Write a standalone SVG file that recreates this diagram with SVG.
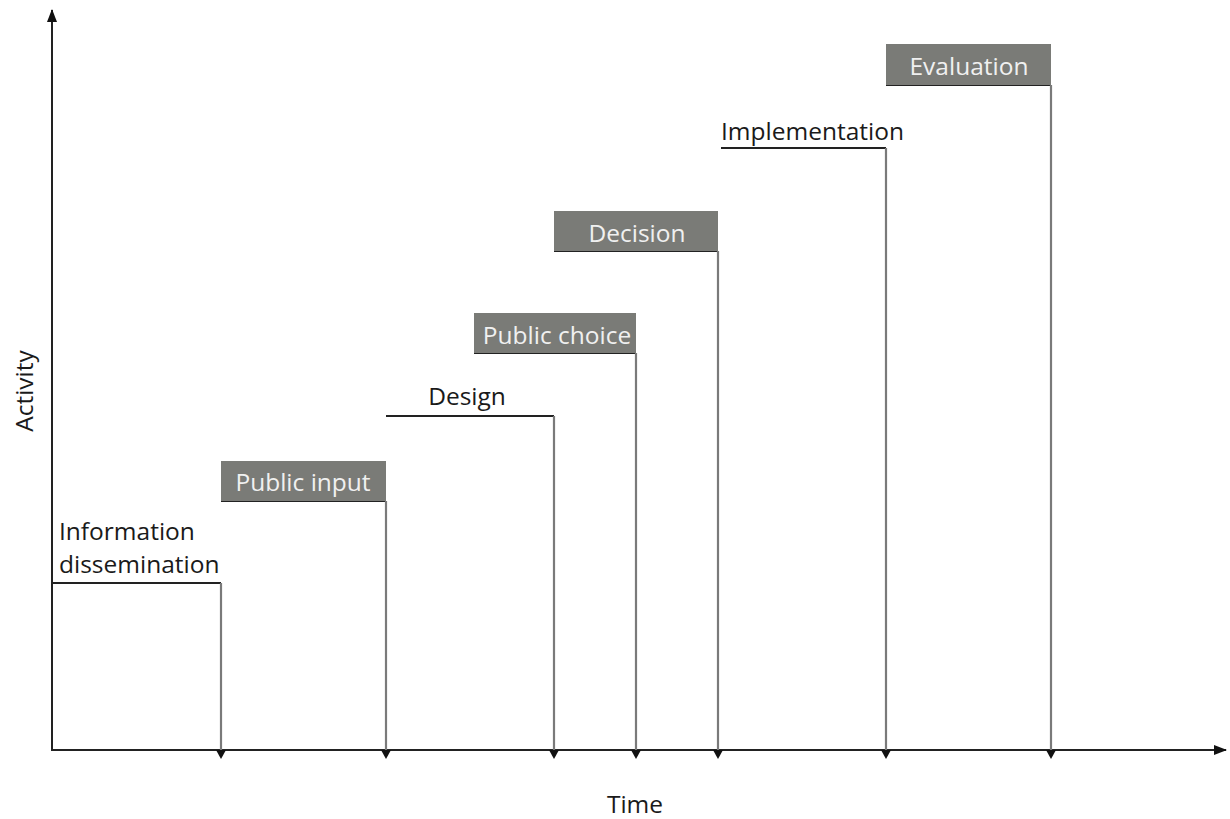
<svg xmlns="http://www.w3.org/2000/svg" width="1230" height="819" viewBox="0 0 1230 819">
<style>
text{font-family:"Open Sans","Noto Sans",sans-serif;font-size:24.5px;fill:#1a1a1a}
.lbl{fill:#f0f0f0;text-anchor:middle}
.box{fill:#7a7b77}
.h{stroke:#222;stroke-width:2;fill:none}
.v{stroke:#7a7a7a;stroke-width:2.2;fill:none}
.ax{stroke:#222;stroke-width:2;fill:none}
</style>
<defs>
<marker id="down" markerWidth="10" markerHeight="10" refX="6" refY="5" orient="auto" markerUnits="userSpaceOnUse" viewBox="0 0 10 10">
<path d="M0,0 L9,5 L0,10 Z" fill="#111"/>
</marker>
<marker id="arr" markerWidth="14" markerHeight="14" refX="12" refY="7" orient="auto" markerUnits="userSpaceOnUse" viewBox="0 0 14 14">
<path d="M0,2 L13,7 L0,12 Z" fill="#111"/>
</marker>
</defs>
<g id="axes">
<line class="ax" x1="52" y1="751" x2="52" y2="10" marker-end="url(#arr)"/>
<line class="ax" x1="51" y1="750" x2="1226" y2="750" marker-end="url(#arr)"/>
<text x="635" y="813" text-anchor="middle">Time</text>
<text transform="translate(33,391) rotate(-90)" text-anchor="middle">Activity</text>
</g>
<g id="connectors">
<path class="h" d="M53,583 H221"/>
<path class="v" d="M221,583 V756" marker-end="url(#down)"/>
<path class="h" d="M221,501 H386"/>
<path class="v" d="M386,501 V756" marker-end="url(#down)"/>
<path class="h" d="M386,416 H554"/>
<path class="v" d="M554,416 V756" marker-end="url(#down)"/>
<path class="h" d="M474,353 H636"/>
<path class="v" d="M636,353 V756" marker-end="url(#down)"/>
<path class="h" d="M554,251 H718"/>
<path class="v" d="M718,251 V756" marker-end="url(#down)"/>
<path class="h" d="M721,148 H886"/>
<path class="v" d="M886,148 V756" marker-end="url(#down)"/>
<path class="h" d="M886,85 H1051"/>
<path class="v" d="M1051,85 V756" marker-end="url(#down)"/>
</g>
<g id="information-dissemination">
<text x="59" y="540">Information</text>
<text x="59" y="573">dissemination</text>
</g>
<g id="public-input">
<rect class="box" x="221" y="461" width="165" height="40"/>
<text class="lbl" x="303" y="491">Public input</text>
</g>
<g id="design">
<text x="467" y="405" text-anchor="middle">Design</text>
</g>
<g id="public-choice">
<rect class="box" x="474" y="313" width="162" height="40"/>
<text class="lbl" x="557" y="344">Public choice</text>
</g>
<g id="decision">
<rect class="box" x="554" y="211" width="164" height="40"/>
<text class="lbl" x="637" y="242">Decision</text>
</g>
<g id="implementation">
<text x="721" y="140">Implementation</text>
</g>
<g id="evaluation">
<rect class="box" x="886" y="44" width="165" height="41"/>
<text class="lbl" x="969" y="75">Evaluation</text>
</g>
</svg>
